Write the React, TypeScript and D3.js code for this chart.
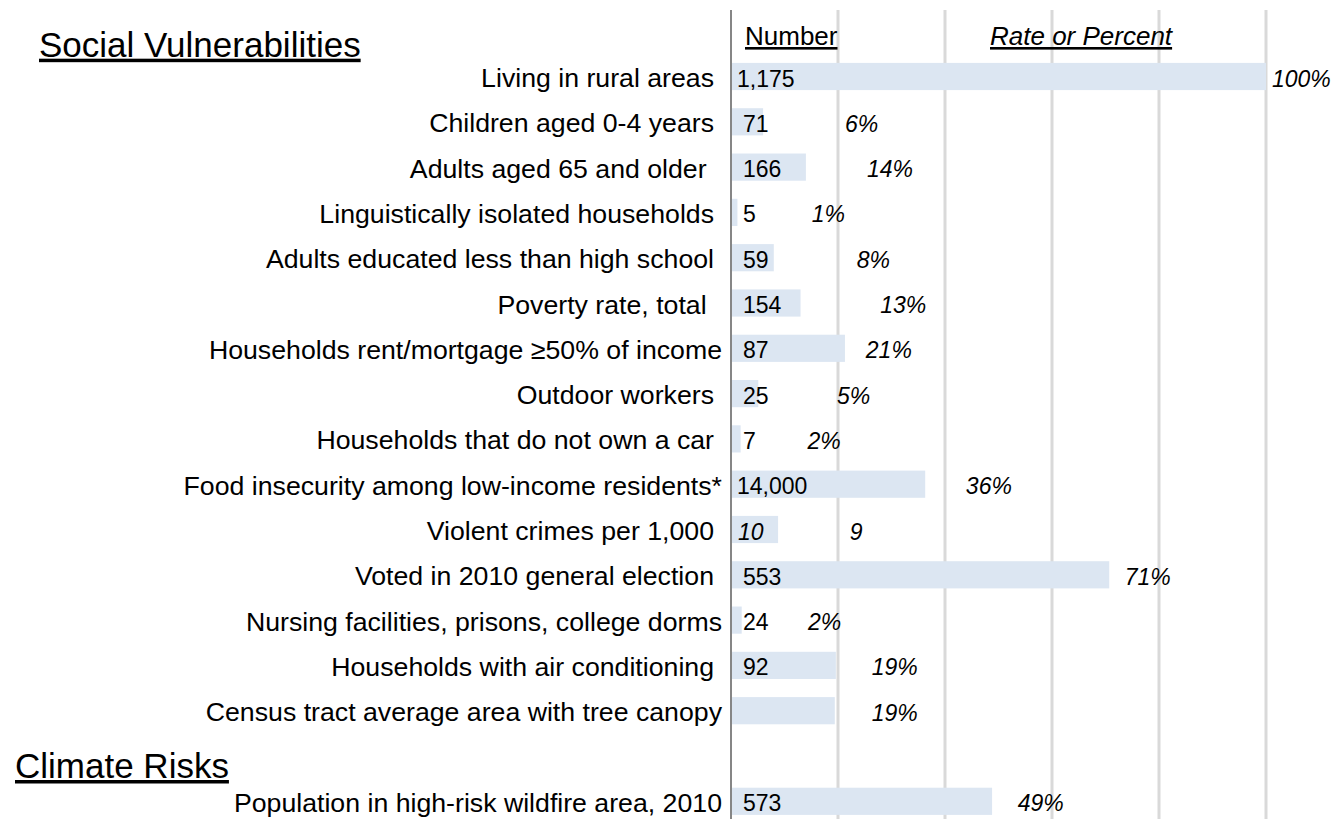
import React, { useEffect } from 'react';
import * as d3 from 'd3';

// rows of the chart; the empty entry is the gap before "Climate Risks"
const categories = [
  'Living in rural areas',
  'Children aged 0-4 years',
  'Adults aged 65 and older ',
  'Linguistically isolated households',
  'Adults educated less than high school',
  'Poverty rate, total ',
  'Households rent/mortgage ≥50% of income',
  'Outdoor workers',
  'Households that do not own a car',
  'Food insecurity among low-income residents*',
  'Violent crimes per 1,000',
  'Voted in 2010 general election',
  'Nursing facilities, prisons, college dorms',
  'Households with air conditioning',
  'Census tract average area with tree canopy',
  '',
  'Population in high-risk wildfire area, 2010',
];

// bar length (rate or percent)
const rates = [100, 6, 14, 1.2, 8, 13, 21.3, 5.1, 1.8, 36.3, 8.8, 70.7, 2, 19.6, 19.4, 0, 48.8];

// text shown inside the bar
const numberLabels = ['1,175', '71', '166', '5', '59', '154', '87', '25', '7', '14,000', '10', '553', '24', '92', '', '', '573'];
const numberItalic = [false, false, false, false, false, false, false, false, false, false, true, false, false, false, false, false, false];

// rate labels and where they sit along the percent axis
const rateLabels = ['100%', '6%', '14%', '1%', '8%', '13%', '21%', '5%', '2%', '36%', '9', '71%', '2%', '19%', '19%', '', '49%'];
const rateLabelAt = [101.1, 21.3, 25.4, 15.1, 23.5, 27.9, 25.2, 19.8, 14.3, 43.9, 22.2, 73.6, 14.4, 26.3, 26.3, 0, 53.6];

const gridTicks = [20, 40, 60, 80, 100];

const sectionTitles = ['Social Vulnerabilities', 'Climate Risks'];

const width = 1334;
const height = 819;
const font = '"Liberation Sans", Arial, sans-serif';

const App: React.FC = () => {
  useEffect(() => {
    document.body.style.margin = '0';
  }, []);

  const x = d3.scaleLinear().domain([0, 100]).range([731, 1266]);
  const step = 45.3;
  const top = 76.5 - step / 2;
  const y = d3
    .scaleBand<number>()
    .domain(d3.range(categories.length))
    .range([top, top + step * categories.length])
    .paddingInner(0.4)
    .paddingOuter(0.2);
  const mid = (i: number) => (y(i) ?? 0) + y.bandwidth() / 2;

  return (
    <svg width={width} height={height} style={{ display: 'block', fontFamily: font }}>
      {/* grid */}
      {gridTicks.map((t) => (
        <line key={t} x1={x(t)} x2={x(t)} y1={10} y2={height} stroke="#d9d9d9" strokeWidth={3} />
      ))}

      {/* bars */}
      {rates.map((r, i) =>
        categories[i] === '' ? null : (
          <rect key={i} x={x(0)} y={y(i)} width={x(r) - x(0)} height={y.bandwidth()} fill="#dce6f2" />
        )
      )}

      <line x1={x(0)} x2={x(0)} y1={10} y2={height} stroke="#868686" strokeWidth={2} />

      {/* section headers */}
      <text x={39} y={56.7} fontSize={35} textDecoration="underline" fill="#000">
        {sectionTitles[0]}
      </text>
      <text x={15} y={778} fontSize={35} textDecoration="underline" fill="#000">
        {sectionTitles[1]}
      </text>

      {/* column headers */}
      <text x={745} y={45} fontSize={26} textDecoration="underline" fill="#000">
        Number
      </text>
      <text x={990} y={45} fontSize={26} fontStyle="italic" textDecoration="underline" fill="#000">
        Rate or Percent
      </text>

      {/* category labels */}
      {categories.map((c, i) => (
        <text
          key={i}
          x={c.length > 38 ? 722 : 714}
          y={mid(i) + 1.5}
          fontSize={26.7}
          textAnchor="end"
          dominantBaseline="central"
          style={{ whiteSpace: 'pre' }}
          fill="#000"
        >
          {c}
        </text>
      ))}

      {/* number labels */}
      {numberLabels.map((n, i) => (
        <text
          key={i}
          x={x(0) + (numberItalic[i] ? 7 : n.length >= 5 ? 6 : 12)}
          y={mid(i) + 2}
          fontSize={23}
          fontStyle={numberItalic[i] ? 'italic' : 'normal'}
          dominantBaseline="central"
          fill="#000"
        >
          {n}
        </text>
      ))}

      {/* rate labels */}
      {rateLabels.map((l, i) => (
        <text
          key={i}
          x={x(rateLabelAt[i])}
          y={mid(i) + 2}
          fontSize={23}
          fontStyle="italic"
          dominantBaseline="central"
          fill="#000"
        >
          {l}
        </text>
      ))}
    </svg>
  );
};

export default App;
